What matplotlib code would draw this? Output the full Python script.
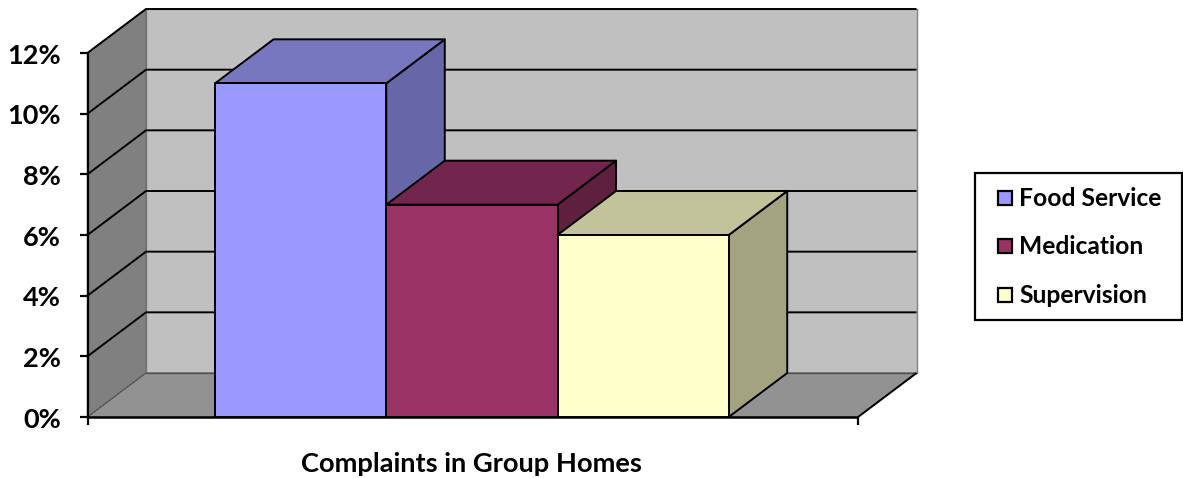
import matplotlib
matplotlib.use("Agg")
import matplotlib.pyplot as plt
from matplotlib.patches import Polygon, Rectangle

categories = ["Food Service", "Medication", "Supervision"]
values = [11, 7, 6]
colors = ["#9999FF", "#993366", "#FFFFCC"]
top_colors = ["#7777C0", "#73264D", "#C2C29B"]
side_colors = ["#6666A8", "#5F2040", "#A3A380"]
yticks = [0, 2, 4, 6, 8, 10, 12]
xlabel = "Complaints in Group Homes"

W, H = 1183, 478
plt.rcParams["font.family"] = ["Lato", "DejaVu Sans"]
plt.rcParams["font.weight"] = "bold"
fig = plt.figure(figsize=(W / 100, H / 100), dpi=100)

# plot frame in figure pixels
L, R, B, T = 87.5, 858.0, 417.0, 53.0
ax = fig.add_axes([L / W, 1 - B / H, (R - L) / W, (B - T) / H])
x0, x1 = -0.745, 3.755
ax.set_xlim(x0, x1)
ax.set_ylim(0, 12)
ax.patch.set_visible(False)
for s in ax.spines.values():
    s.set_visible(False)
ax.set_xticks([])
ax.set_yticks([])

# depth of the 3D box in data units
dx = 58.5 / ((R - L) / (x1 - x0))
dy = 12 * 44 / (B - T)

def poly(pts, fc, ec="black", lw=1.4, z=1):
    ax.add_patch(Polygon(pts, closed=True, fc=fc, ec=ec, lw=lw, zorder=z,
                         clip_on=False, joinstyle="round"))

def line(xs, ys, color="black", lw=1.6, z=2, **kw):
    ax.plot(xs, ys, color=color, lw=lw, zorder=z, clip_on=False,
            solid_capstyle="butt", **kw)

# walls and floor
poly([(x0 + dx, dy), (x1 + dx, dy), (x1 + dx, 12 + dy), (x0 + dx, 12 + dy)], "#C0C0C0", ec="#808080", lw=1)
poly([(x0, 0), (x0 + dx, dy), (x0 + dx, 12 + dy), (x0, 12)], "#808080", ec="#707070", lw=1)
poly([(x0, 0), (x1, 0), (x1 + dx, dy), (x0 + dx, dy)], "#929292", ec="#606060", lw=0.8)

# gridlines
for v in yticks[1:]:
    line([x0, x0 + dx, x1 + dx], [v, v + dy, v + dy], lw=1.4)
line([x0 + dx, x1 + dx], [dy, dy], color="#505050", lw=1.0)
line([x1, x1 + dx], [0, dy], lw=1.4)
line([x0, x0 + dx], [0, dy], color="#555555", lw=0.9, ls=(0, (2, 1)), z=3)

# axes lines and ticks
line([x0, x0], [0, 12], lw=1.6, z=3)
line([x0, x1], [0, 0], lw=1.8, z=3)
tick_x = 0.045
tick_y = 0.28
for v in yticks:
    line([x0 - tick_x, x0], [v, v], lw=1.6, z=3)
    ax.text(x0 - 0.155, v - 0.09, f"{v}%", ha="right", va="center",
            fontsize=19.5, fontweight="bold", color="black")
line([x0, x0], [-tick_y, 0], lw=1.6, z=3)
line([x1, x1], [-tick_y, 0], lw=1.6, z=3)

# bars, drawn left to right
for i, (v, c, tc, sc) in enumerate(zip(values, colors, top_colors, side_colors)):
    z = 4 + i
    poly([(i + 1, 0), (i + 1 + dx, dy), (i + 1 + dx, v + dy), (i + 1, v)], sc, z=z)
    poly([(i, v), (i + dx, v + dy), (i + 1 + dx, v + dy), (i + 1, v)], tc, z=z)
    poly([(i, 0), (i + 1, 0), (i + 1, v), (i, v)], c, z=z + 0.5)

# category axis title
ax.text((x0 + x1) / 2 - 0.01, -1.55, xlabel, ha="center", va="center",
        fontsize=19.6, fontweight="bold", color="black")

# legend box in figure fraction coordinates
fig.add_artist(Rectangle((974.5 / W, 1 - 319.5 / H), (1182 - 974.5) / W, (319.5 - 173.5) / H,
                         transform=fig.transFigure, fc="white", ec="black", lw=1.6))
for name, c, yc in zip(categories, colors, [198, 246, 295]):
    fig.add_artist(Rectangle((998 / W, 1 - (yc + 7) / H), 14 / W, 14 / H,
                             transform=fig.transFigure, fc=c, ec="black", lw=1.6))
    fig.text(1019 / W, 1 - (yc + 0.5) / H, name, ha="left", va="center", fontsize=17.7,
             fontweight="bold", color="black")

fig.savefig("out.png", dpi=100, facecolor="white")
